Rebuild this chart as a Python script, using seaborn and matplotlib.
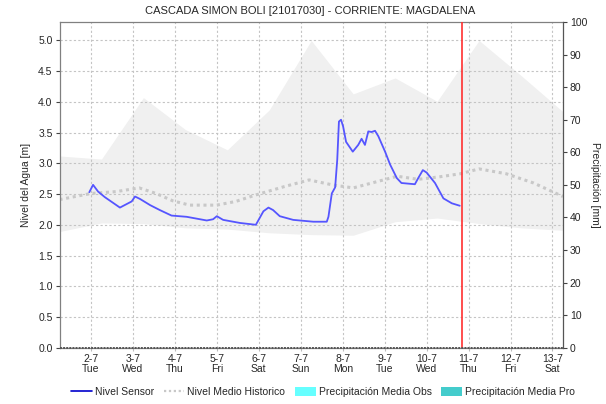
import matplotlib
matplotlib.use("Agg")
import matplotlib.pyplot as plt
from matplotlib.lines import Line2D
from matplotlib.patches import Patch
import seaborn as sns
import pandas as pd

# Days are counted from 2-7 (Tue) at 00:00
tick_days = list(range(12))
tick_labels = ["2-7\nTue", "3-7\nWed", "4-7\nThu", "5-7\nFri", "6-7\nSat", "7-7\nSun",
               "8-7\nMon", "9-7\nTue", "10-7\nWed", "11-7\nThu", "12-7\nFri", "13-7\nSat"]

# Sensor water level [m]
sensor_day = [-0.04, 0.05, 0.17, 0.33, 0.69, 0.97, 1.05, 1.17, 1.41, 1.64, 1.92, 2.28,
              2.76, 2.91, 3.0, 3.15, 3.55, 3.93, 4.11, 4.23, 4.34, 4.5, 4.82, 5.3,
              5.62, 5.66, 5.74, 5.82, 5.87, 5.91, 5.96, 6.01, 6.08, 6.24, 6.37, 6.45,
              6.53, 6.61, 6.69, 6.77, 6.85, 7.01, 7.13, 7.29, 7.4, 7.72, 7.8, 7.91,
              8.0, 8.2, 8.4, 8.6, 8.79]
sensor_level = [2.53, 2.65, 2.54, 2.45, 2.28, 2.38, 2.46, 2.42, 2.32, 2.24, 2.15, 2.13,
                2.07, 2.09, 2.14, 2.08, 2.03, 2.0, 2.22, 2.28, 2.24, 2.14, 2.08, 2.05,
                2.05, 2.13, 2.51, 2.61, 3.06, 3.68, 3.71, 3.6, 3.35, 3.19, 3.3, 3.4,
                3.3, 3.52, 3.51, 3.53, 3.44, 3.19, 2.98, 2.76, 2.68, 2.66, 2.76, 2.89,
                2.85, 2.68, 2.43, 2.35, 2.31]

# Historic mean level [m]
hist_day = [-0.75, 0.0, 0.6, 1.15, 1.55, 1.95, 2.35, 3.0, 3.45, 3.95, 4.6, 5.2,
            5.75, 6.25, 6.75, 7.3, 7.8, 8.3, 8.8, 9.25, 9.9, 10.55, 11.25]
hist_level = [2.41, 2.51, 2.54, 2.60, 2.51, 2.39, 2.32, 2.32, 2.38, 2.49, 2.62, 2.73,
              2.65, 2.60, 2.69, 2.79, 2.74, 2.78, 2.83, 2.91, 2.83, 2.68, 2.46]

# Historic range band [m]
band_day = [-0.75, 0.25, 1.25, 2.25, 3.25, 4.25, 5.25, 6.25, 7.25, 8.25, 9.25, 10.25, 11.25]
band_upper = [3.12, 3.07, 4.07, 3.55, 3.22, 3.87, 5.0, 4.13, 4.39, 4.01, 5.0, 4.43, 3.84]
band_lower = [1.89, 2.03, 2.02, 1.95, 1.93, 1.87, 1.84, 1.83, 2.05, 2.11, 2.02, 1.95, 1.91]

now_day = 8.85

sns.set_theme(style="white")
plt.rcParams["font.family"] = ["Liberation Sans", "DejaVu Sans"]
plt.rcParams["font.size"] = 7.5

fig = plt.figure(figsize=(6.06, 4.04), dpi=100)
ax = fig.add_axes([0.0982, 0.1394, 0.8308, 0.8061])

ax.fill_between(band_day, band_lower, band_upper, color="#f0f0f0", lw=0, zorder=1)

sensor_df = pd.DataFrame({"day": sensor_day, "level": sensor_level})
hist_df = pd.DataFrame({"day": hist_day, "level": hist_level})

sns.lineplot(data=hist_df, x="day", y="level", ax=ax, color="#c8c8c8", lw=2.2,
             linestyle=(0, (1, 1.2)), zorder=2)
sns.lineplot(data=sensor_df, x="day", y="level", ax=ax, color="#5555ff", lw=1.3, zorder=3)

ax.axvline(now_day, color="#ff3030", lw=1.2, zorder=4)
ax.axhline(0, color="#555555", lw=1.4, linestyle=(0, (1, 0.6)), zorder=4, clip_on=False)

ax.set_xlim(-0.75, 11.25)
ax.set_ylim(0, 5.3)
ax.set_xticks(tick_days)
ax.set_xticklabels(tick_labels, fontsize=7.5, linespacing=1.05)
ax.set_yticks([i * 0.5 for i in range(11)])
ax.set_yticklabels([f"{i * 0.5:.1f}" for i in range(11)], fontsize=7.5)
ax.set_xlabel("")
ax.set_ylabel("Nivel del Agua [m]", fontsize=7.5, labelpad=5)

ax.set_axisbelow("line")
ax.grid(True, color="#c4c4c4", linestyle=(0, (2, 2)), lw=0.8)
ax.tick_params(axis="y", which="both", left=True, length=3, width=0.8, color="#444444", pad=2)
ax.tick_params(axis="x", bottom=True, length=2, width=0.8, color="#bbbbbb", pad=2.5)
for side in ["top", "left", "bottom"]:
    ax.spines[side].set_color("#808080")
    ax.spines[side].set_linewidth(0.9)
ax.spines["right"].set_visible(False)

ax2 = ax.twinx()
ax2.set_ylim(0, 100)
ax2.set_yticks(range(0, 101, 10))
ax2.set_yticklabels([str(v) for v in range(0, 101, 10)], fontsize=7.5)
ax2.set_ylabel("Precipitación [mm]", fontsize=7.5, rotation=270, labelpad=9)
ax2.tick_params(axis="y", right=True, length=3, width=0.8, color="#444444", pad=2)
ax2.grid(False)
for side in ["top", "left", "bottom"]:
    ax2.spines[side].set_visible(False)
ax2.spines["right"].set_color("#555555")
ax2.spines["right"].set_linewidth(0.9)

fig.suptitle("CASCADA SIMON BOLI [21017030] - CORRIENTE: MAGDALENA",
             fontsize=8, x=0.512, y=0.985)

handles = [
    Line2D([], [], color="#0000cc", lw=1.2),
    Line2D([], [], color="#c8c8c8", lw=1.6, linestyle=(0, (1, 1.2))),
    Patch(facecolor="#66ffff", edgecolor="none"),
    Patch(facecolor="#44cccc", edgecolor="none"),
]
labels = ["Nivel Sensor", "Nivel Medio Historico",
          "Precipitación Media Obs", "Precipitación Media Pro"]
fig.legend(handles, labels, loc="center", bbox_to_anchor=(0.533, 0.03), ncol=4,
           frameon=False, fontsize=7.5, handlelength=2.0, handletextpad=0.3,
           columnspacing=0.9, handleheight=1.0)

fig.savefig("out.png", dpi=100)
